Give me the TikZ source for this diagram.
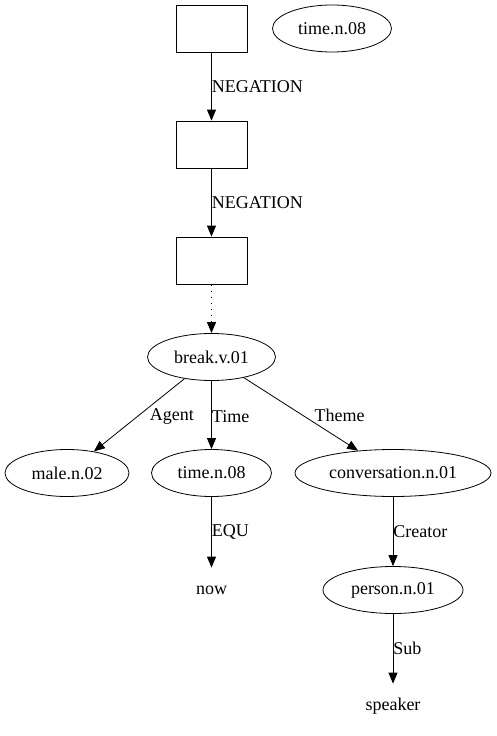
\documentclass[tikz,border=0pt]{standalone}
\usepackage{fontspec}
\setmainfont{Liberation Serif}
\usepackage{tikz}
\usetikzlibrary{arrows.meta,shapes.geometric,positioning}

\tikzset{
    box/.style={draw, rectangle, minimum width=71pt, minimum height=47pt},
    ell/.style={draw, ellipse, minimum height=47pt, inner sep=0pt},
    txt/.style={minimum height=44pt, inner sep=0pt},
    edge/.style={-{Triangle[length=11pt, width=9pt]}, line width=0.8pt},
    lbl/.style={inner sep=2pt}
}

\begin{document}
\begin{tikzpicture}[x=1pt, y=-1pt, font=\fontsize{18}{21}\selectfont, line width=0.8pt]
    \useasboundingbox (0,0) rectangle (497,736);

    \node[box] (neg1) at (211.5,28.5) {};
    \node[ell, minimum width=119pt] (toptime) at (332,28.5) {time.n.08};
    \node[box] (neg2) at (211.5,144.5) {};
    \node[box] (neg3) at (211.5,260.5) {};
    \node[ell, minimum width=128pt] (brk) at (211.5,357) {break.v.01};
    \node[ell, minimum width=124pt] (male) at (67,473) {male.n.02};
    \node[ell, minimum width=120pt] (time) at (211.5,473) {time.n.08};
    \node[ell, minimum width=196pt] (conv) at (393,473) {conversation.n.01};
    \node[txt] (now) at (211.5,590) {now};
    \node[ell, minimum width=140pt] (person) at (393,590) {person.n.01};
    \node[txt] (speaker) at (393,706) {speaker};

    \draw[edge] (neg1) -- node[lbl, right, inner sep=0pt] {NEGATION} (neg2);
    \draw[edge] (neg2) -- node[lbl, right, inner sep=0pt] {NEGATION} (neg3);
    \draw[edge, line width=1.1pt, dash pattern=on 1.1pt off 5pt] (neg3) -- (brk);

    \draw[edge] (brk) -- node[lbl, right=10pt, pos=0.52] {Agent} (male);
    \draw[edge] (brk) -- node[lbl, right, inner sep=0pt, pos=0.52] {Time} (time);
    \draw[edge] (brk) -- node[lbl, right=9pt, pos=0.52] {Theme} (conv);

    \draw[edge] (time) -- node[lbl, right, inner sep=0pt] {EQU} (now);
    \draw[edge] (conv) -- node[lbl, right, inner sep=0pt] {Creator} (person);
    \draw[edge] (person) -- node[lbl, right, inner sep=0pt] {Sub} (speaker);
\end{tikzpicture}
\end{document}
